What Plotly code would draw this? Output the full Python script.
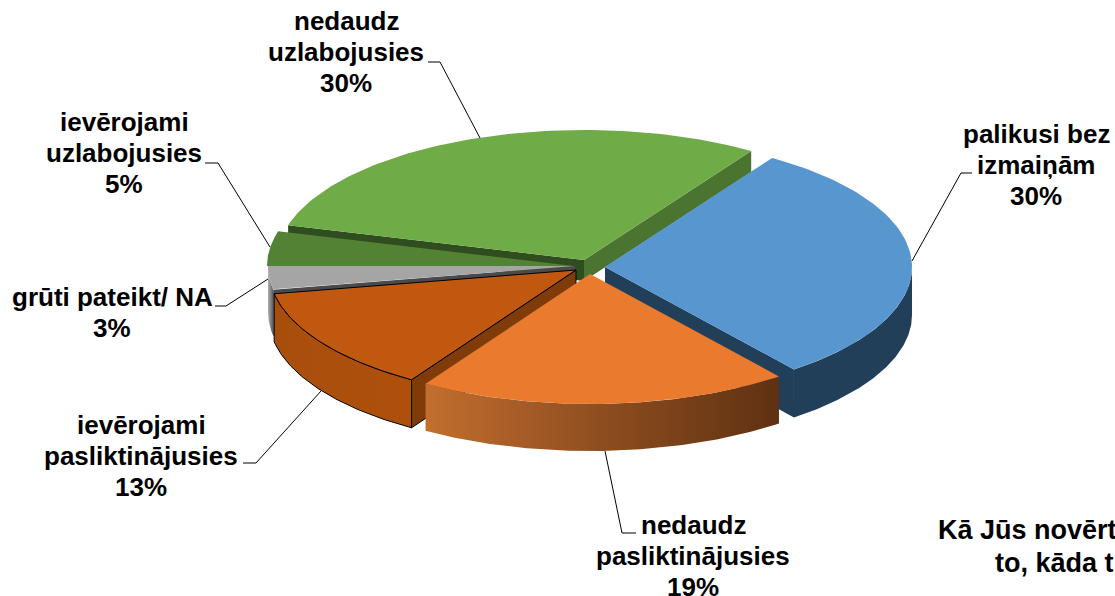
import numpy as np
import plotly.graph_objects as go

# Data
categories = ["palikusi bez<br>izmaiņām", "nedaudz<br>pasliktinājusies", "ievērojami<br>pasliktinājusies",
              "grūti pateikt/ NA", "ievērojami<br>uzlabojusies", "nedaudz<br>uzlabojusies"]
values = [30.28, 19.55, 13.08, 2.92, 4.30, 29.87]
value_labels = ["30%", "19%", "13%", "3%", "5%", "30%"]
top_colors = ["#5896D0", "#E97A2E", "#C0590F", "#A5A5A5", "#548235", "#6FAB46"]

START = 57.0
RX, RY = 307.0, 130.0
tips = [(605, 267), (590, 274), (576, 270), (575, 266), (574, 266), (584, 260)]
depths = [48, 47, 48, 46, 10, 21]


def arc(i, t0, t1, n=80):
    t = np.radians(np.linspace(t0, t1, n))
    return tips[i][0] + RX * np.cos(t), tips[i][1] - RY * np.sin(t)


bounds = [START]
for v in values:
    bounds.append(bounds[-1] - v * 3.6)

fig = go.Figure()


def poly(xs, ys, color=None, grad=None, line=None):
    kw = dict(x=list(xs) + [xs[0]], y=list(ys) + [ys[0]], mode="lines", fill="toself",
              hoverinfo="skip", showlegend=False)
    kw["line"] = dict(color=line, width=1) if line else dict(width=0, color="rgba(0,0,0,0)")
    if grad:
        kw["fillgradient"] = dict(type="horizontal", colorscale=[[k / (len(grad) - 1), c] for k, c in enumerate(grad)])
        kw["fillcolor"] = grad[0]
    else:
        kw["fillcolor"] = color
    fig.add_trace(go.Scatter(**kw))


def top(i, line=None):
    ax, ay = arc(i, bounds[i], bounds[i + 1])
    poly([tips[i][0], *ax], [tips[i][1], *ay], top_colors[i], line=line)


def outer(i, t0, t1, color=None, grad=None, line=None):
    ax, ay = arc(i, t0, t1)
    poly(list(ax) + list(ax[::-1]), list(ay) + list((ay + depths[i])[::-1]), color, grad, line)


def cut(i, t, color, line=None):
    ax, ay = arc(i, t, t, 2)
    x0, y0 = tips[i]
    x1, y1 = ax[0], ay[0]
    d = depths[i]
    poly([x0, x1, x1, x0], [y0, y1, y1 + d, y0 + d], color, line=line)


# back to front
# green (index 5)
cut(5, bounds[5], "#2F4D1E")
cut(5, bounds[6], "#4B7431")
top(5)
# dark green (index 4)
top(4)
# grey (index 3)
outer(3, bounds[3], -180, grad=["#B0B0B0", "#5A5A5A"])
cut(3, bounds[3], "#4A4A4A")
top(3)
# blue (index 0)
outer(0, bounds[1], 0, "#223F59")
cut(0, bounds[1], "#223F59")
top(0)
# dark orange (index 2)
outer(2, bounds[3], bounds[2], grad=["#A84E0C", "#AE500C"], line="#000000")
cut(2, bounds[2], "#7F3C08", line="#000000")
top(2, line="#000000")
# orange (index 1)
outer(1, bounds[2], bounds[1], grad=["#C26E2E", "#8E4D1F", "#5F3112"])
top(1)

leaders = [
    ([972, 961], [173, 173], 912, 261),
    ([636, 622], [533, 533], 605, 451),
    ([243, 256], [463, 463], 321, 391),
    ([215, 226], [306, 306], 268, 279),
    ([205, 218], [163, 163], 270, 247),
    ([428, 440], [62, 62], 480, 138),
]
for xs, ys, ex, ey in leaders:
    fig.add_trace(go.Scatter(x=xs + [ex], y=ys + [ey], mode="lines",
                             line=dict(color="#000000", width=1), hoverinfo="skip", showlegend=False))

label_pos = [(1036, 134), (693, 525), (141, 425), (112, 297), (124, 122), (346, 21)]
LINE_H = 31
FONT = dict(family="Liberation Sans, Arial, sans-serif", size=26, color="#000000")
TITLE_FONT = dict(family="Liberation Sans, Arial, sans-serif", size=27, color="#000000")
for cat, lab, (x, y) in zip(categories, value_labels, label_pos):
    for k, line in enumerate(cat.split("<br>") + [lab]):
        fig.add_annotation(x=x, y=y + k * LINE_H, text=f"<b>{line}</b>", showarrow=False, font=FONT,
                           xanchor="center", yanchor="middle")

# axis title, cut off by the edge of the picture
fig.add_annotation(x=936, y=530, text="<b>Kā Jūs novērt</b>", showarrow=False, font=TITLE_FONT, xanchor="left", yanchor="middle")
fig.add_annotation(x=993, y=563, text="<b>to, kāda t</b>", showarrow=False, font=TITLE_FONT, xanchor="left", yanchor="middle")

fig.update_layout(width=1115, height=596, margin=dict(l=0, r=0, t=0, b=0), paper_bgcolor="#FFFFFF",
                  plot_bgcolor="#FFFFFF",
                  xaxis=dict(range=[0, 1115], visible=False, fixedrange=True),
                  yaxis=dict(range=[596, 0], visible=False, fixedrange=True))
fig.write_html("out.html", config={"displayModeBar": False},
               post_script="document.body.style.margin='0';document.body.style.overflow='hidden';")
